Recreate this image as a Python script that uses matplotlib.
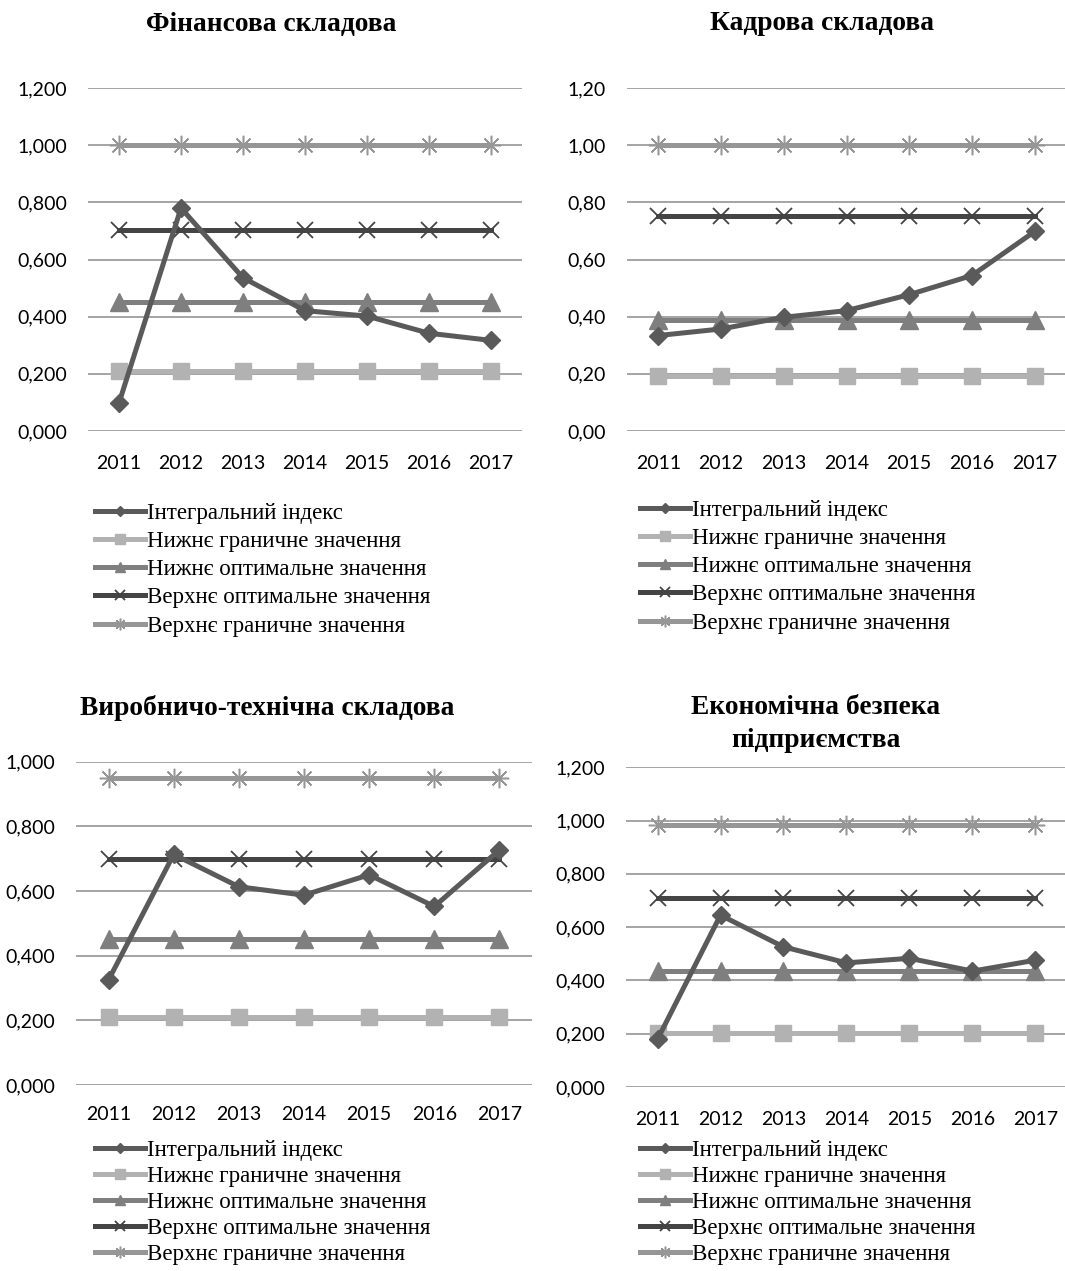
import matplotlib
matplotlib.use("Agg")
import matplotlib.pyplot as plt
import numpy as np

YEARS = ["2011", "2012", "2013", "2014", "2015", "2016", "2017"]
SERIES_NAMES = [
    "Інтегральний індекс",
    "Нижнє граничне значення",
    "Нижнє оптимальне значення",
    "Верхнє оптимальне значення",
    "Верхнє граничне значення",
]

# Фінансова складова
FIN_INDEX = [0.098, 0.780, 0.536, 0.421, 0.402, 0.342, 0.317]
FIN_LOW_BOUND = 0.210
FIN_LOW_OPT = 0.452
FIN_UP_OPT = 0.702
FIN_UP_BOUND = 1.000

# Кадрова складова
HR_INDEX = [0.334, 0.357, 0.398, 0.421, 0.477, 0.544, 0.698]
HR_LOW_BOUND = 0.191
HR_LOW_OPT = 0.389
HR_UP_OPT = 0.753
HR_UP_BOUND = 1.000

# Виробничо-технічна складова
PROD_INDEX = [0.325, 0.713, 0.613, 0.587, 0.650, 0.552, 0.727]
PROD_LOW_BOUND = 0.211
PROD_LOW_OPT = 0.450
PROD_UP_OPT = 0.700
PROD_UP_BOUND = 0.950

# Економічна безпека підприємства
ECON_INDEX = [0.179, 0.645, 0.526, 0.466, 0.483, 0.435, 0.476]
ECON_LOW_BOUND = 0.204
ECON_LOW_OPT = 0.436
ECON_UP_OPT = 0.709
ECON_UP_BOUND = 0.985

STYLES = [
    dict(color="#5a5a5a", marker="D", markersize=9),
    dict(color="#b2b2b2", marker="s", markersize=12),
    dict(color="#7f7f7f", marker="^", markersize=13),
    dict(color="#444444", marker="x", markersize=12, markeredgewidth=1.3),
    dict(color="#969696", marker=(8, 2, 0), markersize=14, markeredgewidth=1.1),
]

TICK_FONT = "Lato"
SERIF = ["Liberation Serif", "DejaVu Serif"]

W, H = 1065, 1271


def panel(fig, box, title, title_xy, index, bounds, ymax, yfmt, leg_xy, leg_spacing, xpad):
    left, right, top, bottom = box
    ax = fig.add_axes([left / W, 1 - bottom / H, (right - left) / W, (bottom - top) / H])
    x = np.arange(len(YEARS))
    values = [index] + [[b] * len(YEARS) for b in bounds]
    order = [4, 1, 2, 3, 0]
    handles = [None] * 5
    for i in order:
        (line,) = ax.plot(x, values[i], linewidth=3.6, label=SERIES_NAMES[i],
                          zorder=3 + (i == 0), **STYLES[i])
        handles[i] = line
    ax.set_xlim(-0.5, len(YEARS) - 0.5)
    ax.set_ylim(0, ymax)
    ticks = np.arange(0, ymax + 0.001, 0.2)
    ax.set_yticks(ticks)
    ax.set_yticklabels([yfmt.format(v).replace(".", ",") for v in ticks])
    ax.set_xticks(x)
    ax.set_xticklabels(YEARS)
    ax.grid(axis="y", color="#8c8c8c", linewidth=1.1, zorder=1)
    ax.set_axisbelow(True)
    for s in ax.spines.values():
        s.set_visible(False)
    ax.tick_params(axis="y", length=0, pad=15, labelsize=14)
    ax.tick_params(axis="x", length=0, pad=xpad, labelsize=14)
    for lab in ax.get_xticklabels() + ax.get_yticklabels():
        lab.set_family(TICK_FONT)
    fig.text(title_xy[0] / W, 1 - title_xy[1] / H, title, ha="center", va="center",
             fontsize=19.8, fontweight="bold", family=SERIF, linespacing=1.45)
    ax.legend(handles=handles, loc="upper left",
              bbox_to_anchor=(leg_xy[0] / W, 1 - leg_xy[1] / H),
              bbox_transform=fig.transFigure, frameon=False, borderpad=0,
              borderaxespad=0, handlelength=2.2, handletextpad=0.05,
              markerscale=0.6, labelspacing=leg_spacing,
              prop={"family": SERIF, "size": 16.5})
    return ax


def main():
    fig = plt.figure(figsize=(W / 100, H / 100), dpi=100)
    panel(fig, (88, 522, 88, 431), "Фінансова складова", (271, 24), FIN_INDEX,
          [FIN_LOW_BOUND, FIN_LOW_OPT, FIN_UP_OPT, FIN_UP_BOUND], 1.2, "{:.3f}",
          (95, 503), 0.31, 17)
    panel(fig, (627, 1066, 88, 431), "Кадрова складова", (822, 24), HR_INDEX,
          [HR_LOW_BOUND, HR_LOW_OPT, HR_UP_OPT, HR_UP_BOUND], 1.2, "{:.2f}",
          (640, 500), 0.31, 17)
    panel(fig, (76, 532, 761.6, 1085), "Виробничо-технічна складова", (267, 708), PROD_INDEX,
          [PROD_LOW_BOUND, PROD_LOW_OPT, PROD_UP_OPT, PROD_UP_BOUND], 1.0, "{:.3f}",
          (95, 1140), 0.22, 15)
    panel(fig, (626, 1067, 767.3, 1087), "Економічна безпека\nпідприємства", (816, 724),
          ECON_INDEX, [ECON_LOW_BOUND, ECON_LOW_OPT, ECON_UP_OPT, ECON_UP_BOUND], 1.2,
          "{:.3f}", (640, 1140), 0.22, 17)
    fig.savefig("out.png", dpi=100)


if __name__ == "__main__":
    main()
